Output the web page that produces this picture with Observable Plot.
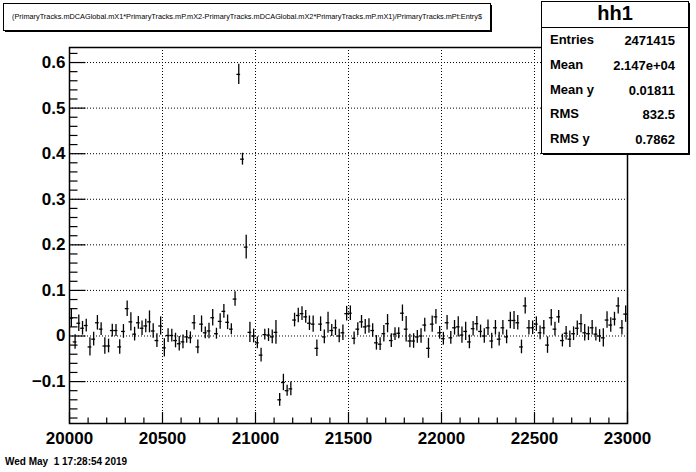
<!DOCTYPE html>
<html><head><meta charset="utf-8">
<script src="https://cdn.jsdelivr.net/npm/d3@7"></script>
<script src="https://cdn.jsdelivr.net/npm/@observablehq/plot@0.6"></script>
<style>body{margin:0;background:#fff} #chart{position:relative;width:696px;height:472px}</style>
</head><body><div id="chart"></div>
<script>
// Profile histogram hh1: 150 bins of width 20 from 20000 to 23000
const binStart = 20000;
const binWidth = 20;
const values = [
  0.039,-0.013,0.028,0.017,0.023,-0.024,-0.007,0.029,0.015,-0.022,
  -0.022,0.012,0.012,-0.024,0.010,0.060,0.031,0.004,0.029,0.017,
  0.022,0.031,0.011,-0.010,0.022,-0.026,0.001,0.001,-0.010,-0.017,
  -0.013,-0.002,-0.004,0.029,-0.024,0.026,0.007,0.011,0.040,0.005,
  0.032,0.054,0.030,0.015,0.081,0.574,0.388,0.195,0.008,0.000,
  -0.015,-0.042,0.003,0.002,-0.002,0.008,-0.140,-0.102,-0.120,-0.116,
  0.035,0.045,0.049,0.042,0.028,0.026,-0.027,0.026,-0.002,0.029,
  0.012,0.018,0.000,0.007,0.049,0.050,-0.005,0.015,0.031,0.020,
  0.022,0.012,-0.015,-0.018,0.005,0.027,-0.010,0.004,0.006,0.050,
  0.015,-0.011,-0.011,-0.002,0.000,0.024,-0.027,0.026,0.042,0.007,
  -0.006,0.029,-0.004,0.018,0.020,0.002,0.010,-0.013,0.016,0.027,
  0.010,0.000,0.018,-0.011,0.018,-0.007,0.018,-0.002,0.034,0.034,
  0.029,-0.024,0.066,0.018,0.018,0.026,0.007,0.018,-0.020,0.040,
  0.015,0.042,-0.010,0.006,-0.007,0.005,0.017,0.027,0.007,0.005,
  0.018,0.004,0.000,-0.004,0.035,0.024,0.037,0.066,0.018,0.048
];
const errors = [
  0.020,0.016,0.018,0.015,0.014,0.020,0.015,0.016,0.014,0.018,
  0.015,0.014,0.013,0.016,0.015,0.017,0.020,0.015,0.014,0.016,
  0.015,0.024,0.016,0.015,0.020,0.020,0.015,0.014,0.016,0.016,
  0.015,0.014,0.013,0.016,0.015,0.018,0.013,0.017,0.018,0.012,
  0.017,0.015,0.016,0.012,0.016,0.022,0.013,0.026,0.022,0.015,
  0.013,0.015,0.012,0.014,0.015,0.026,0.014,0.018,0.012,0.015,
  0.015,0.016,0.015,0.014,0.016,0.018,0.018,0.016,0.015,0.023,
  0.013,0.017,0.015,0.017,0.016,0.016,0.014,0.014,0.014,0.016,
  0.016,0.015,0.016,0.014,0.018,0.020,0.015,0.014,0.012,0.018,
  0.028,0.015,0.016,0.014,0.016,0.015,0.022,0.018,0.016,0.014,
  0.014,0.016,0.014,0.016,0.022,0.018,0.020,0.015,0.016,0.016,
  0.014,0.016,0.017,0.017,0.016,0.015,0.016,0.015,0.018,0.020,
  0.016,0.015,0.018,0.016,0.015,0.016,0.015,0.016,0.018,0.018,
  0.015,0.014,0.014,0.015,0.018,0.015,0.016,0.020,0.018,0.015,
  0.016,0.015,0.014,0.020,0.018,0.016,0.015,0.018,0.016,0.018
];
const xMajor = [20000, 20500, 21000, 21500, 22000, 22500, 23000];
const xLabels = ["20000", "20500", "21000", "21500", "22000", "22500", "23000"];
const xGrid = [20500, 21000, 21500, 22000, 22500];
const yMajor = [-0.1, 0, 0.1, 0.2, 0.3, 0.4, 0.5, 0.6];
const yLabels = ["\u22120.1", "0", "0.1", "0.2", "0.3", "0.4", "0.5", "0.6"];
const xDomain = [20000, 23000];
const yDomain = [-0.192, 0.633];

const statLabels = ["Entries", "Mean", "Mean y", "RMS", "RMS y"];
const statValues = ["2471415", "2.147e+04", "0.01811", "832.5", "0.7862"];
const histName = "hh1";
const titleText = "(PrimaryTracks.mDCAGlobal.mX1*PrimaryTracks.mP.mX2-PrimaryTracks.mDCAGlobal.mX2*PrimaryTracks.mP.mX1)/PrimaryTracks.mPt:Entry$";
const dateText = "Wed May  1 17:28:54 2019";

const rows = values.map((v, i) => ({x: binStart + binWidth * (i + 0.5), y: v, e: errors[i]}));
const xMinor = d3.range(20100, 23000, 100).filter(d => d % 500 !== 0);
const yMinor = d3.range(-18, 63, 2).map(d => d / 100).filter(d => Math.abs(Math.round(d * 100) % 10) !== 0);

const W = 696, H = 472, ML = 69, MR = 69, MT = 47, MB = 49;
const PW = W - ML - MR, PH = H - MT - MB;
const font = "Liberation Sans, Arial, Helvetica, sans-serif";

const plot = Plot.plot({
  width: W, height: H,
  marginLeft: ML, marginRight: MR, marginTop: MT, marginBottom: MB,
  style: {fontFamily: font, background: "white", color: "black"},
  x: {domain: xDomain, axis: null},
  y: {domain: yDomain, axis: null},
  marks: [
    Plot.ruleX(xGrid, {x: d => d, stroke: "black", strokeWidth: 1, strokeDasharray: "1,2"}),
    Plot.ruleY(yMajor, {y: d => d, stroke: "black", strokeWidth: 1, strokeDasharray: "1,2"}),
    Plot.ruleX(rows, {x: "x", y1: d => d.y - d.e, y2: d => d.y + d.e, stroke: "black", strokeWidth: 1.3}),
    Plot.ruleY(rows, {y: "y", x1: d => d.x - binWidth / 2, x2: d => d.x + binWidth / 2, stroke: "black", strokeWidth: 1.3}),
    Plot.tickX(xMajor, {x: d => d, insetTop: PH - 11, stroke: "black", strokeWidth: 1.2}),
    Plot.tickX(xMinor, {x: d => d, insetTop: PH - 5.5, stroke: "black", strokeWidth: 1.2}),
    Plot.tickY(yMajor, {y: d => d, insetRight: PW - 16.5, stroke: "black", strokeWidth: 1.2}),
    Plot.tickY(yMinor, {y: d => d, insetRight: PW - 8.5, stroke: "black", strokeWidth: 1.2}),
    Plot.frame({stroke: "black", strokeWidth: 1.5}),
    Plot.text(xMajor, {x: d => d, text: (d, i) => xLabels[i], frameAnchor: "bottom", dy: 15, lineAnchor: "middle", fontSize: 17, fontWeight: "bold", fill: "black"}),
    Plot.text(yMajor, {y: d => d, text: (d, i) => yLabels[i], frameAnchor: "left", textAnchor: "end", dx: -4, fontSize: 17, fontWeight: "bold", fill: "black"})
  ]
});

const svg = d3.select(plot);
// title pave
const tg = svg.append("g").attr("text-anchor", "start");
tg.append("rect").attr("x", 5).attr("y", 5).attr("width", 487).attr("height", 27).attr("fill", "black");
tg.append("rect").attr("x", 3.5).attr("y", 3.5).attr("width", 487).attr("height", 27).attr("fill", "white").attr("stroke", "black").attr("stroke-width", 1);
tg.append("text").attr("x", 247).attr("y", 17).attr("text-anchor", "middle").attr("dominant-baseline", "middle")
  .attr("font-family", font).attr("font-size", 7.5).attr("textLength", 470).attr("lengthAdjust", "spacingAndGlyphs")
  .attr("fill", "black").text(titleText);
// stats box
const sg = svg.append("g").attr("text-anchor", "start");
sg.append("rect").attr("x", 543).attr("y", 3).attr("width", 147).attr("height", 152).attr("fill", "black");
sg.append("rect").attr("x", 541.5).attr("y", 1.5).attr("width", 147).attr("height", 152).attr("fill", "white").attr("stroke", "black").attr("stroke-width", 1);
sg.append("line").attr("x1", 541.5).attr("x2", 688.5).attr("y1", 27.5).attr("y2", 27.5).attr("stroke", "black").attr("stroke-width", 1);
sg.append("text").attr("x", 615).attr("y", 15).attr("text-anchor", "middle").attr("dominant-baseline", "middle")
  .attr("font-family", font).attr("font-size", 20).attr("font-weight", "bold").attr("fill", "black").text(histName);
const rowY = [41, 66, 90.5, 115, 140];
statLabels.forEach((l, i) => {
  sg.append("text").attr("x", 550).attr("y", rowY[i]).attr("text-anchor", "start").attr("dominant-baseline", "middle")
    .attr("font-family", font).attr("font-size", 13).attr("font-weight", "bold").attr("fill", "black").text(l);
  sg.append("text").attr("x", 675).attr("y", rowY[i] + 1).attr("text-anchor", "end").attr("dominant-baseline", "middle")
    .attr("font-family", font).attr("font-size", 13).attr("font-weight", "bold").attr("fill", "black").text(statValues[i]);
});
// date
svg.append("text").attr("x", 5).attr("y", 462).attr("text-anchor", "start").attr("dominant-baseline", "middle").attr("xml:space", "preserve")
  .style("white-space", "pre").attr("font-family", font).attr("font-size", 10).attr("font-weight", "bold").attr("fill", "black").text(dateText);

document.getElementById("chart").appendChild(plot);
</script>
</body></html>
